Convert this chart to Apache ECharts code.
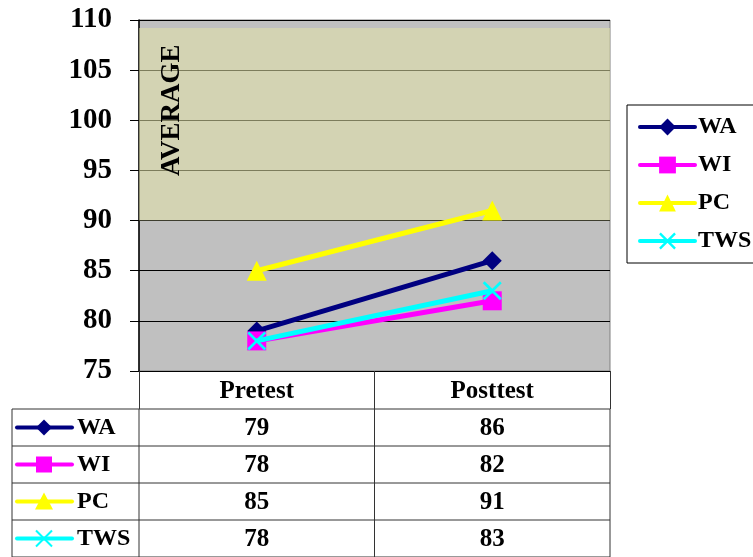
<!DOCTYPE html>
<html><head><meta charset="utf-8">
<script src="https://cdn.jsdelivr.net/npm/echarts@6/dist/echarts.min.js"></script>
<style>html,body{margin:0;padding:0;background:#fff}#c{width:753px;height:557px}</style>
</head><body><div id="c"></div>
<script>
// ---- data ----
const categories = ['Pretest', 'Posttest'];
const seriesNames = ['WA', 'WI', 'PC', 'TWS'];
const WA = [79, 86];
const WI = [78, 82];
const PC = [85, 91];
const TWS = [78, 83];
const yMin = 75, yMax = 110, yStep = 5;
const averageBand = [90, 109.2];
const averageText = 'AVERAGE';

// ---- styles ----
const FONT = '"Liberation Serif", "Times New Roman", serif';
const colors = ['#000080', '#FF00FF', '#FFFF00', '#00FFFF'];
const X_PATH = 'path://M0,1 L1,0 L5,4 L9,0 L10,1 L6,5 L10,9 L9,10 L5,6 L1,10 L0,9 L4,5 Z';
const symbols = ['diamond', 'rect', 'triangle', X_PATH];
const symbolSizes = [19, 19, 20, 19];
const values = [WA, WI, PC, TWS];

const chart = echarts.init(document.getElementById('c'), null, {renderer: 'canvas'});

const series = [{
  name: '_band', type: 'line', data: ['-', '-'], z: 1, silent: true,
  markArea: {
    silent: true,
    itemStyle: {color: 'rgba(226,226,168,0.55)'},
    data: [[{yAxis: averageBand[0]}, {yAxis: averageBand[1]}]]
  }
}];
seriesNames.forEach((n, i) => {
  series.push({
    name: n, type: 'line', data: values[i], z: 3 + i,
    symbol: symbols[i], symbolSize: symbolSizes[i],
    lineStyle: {color: colors[i], width: 5},
    itemStyle: {color: colors[i]},
    emphasis: {disabled: true}
  });
});

chart.setOption({
  animation: false,
  backgroundColor: '#fff',
  grid: {left: 139, right: 143, top: 20, bottom: 186, show: true,
         backgroundColor: '#C0C0C0', borderColor: '#808080', borderWidth: 1},
  xAxis: {
    type: 'category', data: categories, boundaryGap: true,
    axisLine: {lineStyle: {color: '#000', width: 1}},
    axisTick: {show: true, alignWithLabel: false, length: 38, lineStyle: {color: '#333'}},
    axisLabel: {margin: 8, fontSize: 25, fontWeight: 'bold', fontFamily: FONT, color: '#000'},
    splitLine: {show: false}
  },
  yAxis: {
    type: 'value', min: yMin, max: yMax, interval: yStep,
    axisLine: {show: true, lineStyle: {color: '#000', width: 1.5}},
    axisTick: {show: true, length: 9, lineStyle: {color: '#000'}},
    axisLabel: {margin: 27, fontSize: 29, fontWeight: 'bold', fontFamily: FONT, color: '#000'},
    splitLine: {show: true, lineStyle: {color: '#000', width: 1}}
  },
  legend: {
    orient: 'vertical', left: 627, top: 105,
    data: seriesNames,
    itemWidth: 55, itemHeight: 21, itemGap: 14,
    padding: [10, 8, 10, 11],
    borderColor: '#000', borderWidth: 1,
    selectedMode: false,
    lineStyle: {width: 4, cap: 'round'},
    textStyle: {fontSize: 24, fontWeight: 'bold', fontFamily: FONT, color: '#000', lineHeight: 24, padding: [0, 0, 0, -2]}
  },
  series: series
});

// ---- data table built from the arrays ----
const tableLeft = 12, tableRight = 610, rowH = 37;
const headerBottom = 409;
const xPx = categories.map((c) => chart.convertToPixel({xAxisIndex: 0}, c));
const axisLeft = 139;
const midX = (xPx[0] + xPx[1]) / 2;
const g = [];
const lineColor = '#333';
const nRows = seriesNames.length;
for (let r = 0; r <= nRows; r++) {
  const y = headerBottom + r * rowH;
  g.push({type: 'line', z: 50, shape: {x1: tableLeft, y1: y, x2: tableRight, y2: y}, style: {stroke: lineColor, lineWidth: 1}});
}
const bottomY = headerBottom + nRows * rowH;
[tableLeft, axisLeft, midX, tableRight].forEach((x) => {
  g.push({type: 'line', z: 50, shape: {x1: x, y1: headerBottom, x2: x, y2: bottomY}, style: {stroke: lineColor, lineWidth: 1}});
});
seriesNames.forEach((n, i) => {
  const cy = headerBottom + i * rowH + rowH / 2;
  g.push({type: 'line', z: 50, shape: {x1: 17, y1: cy, x2: 72, y2: cy}, style: {stroke: colors[i], lineWidth: 4, lineCap: 'round'}});
  g.push({type: 'text', z: 50, x: 77, y: cy, style: {text: n, font: 'bold 24px ' + FONT, fill: '#000', verticalAlign: 'middle'}});
  values[i].forEach((v, j) => {
    g.push({type: 'text', z: 50, x: xPx[j], y: cy + 1, style: {text: String(v), font: 'bold 25px ' + FONT, fill: '#000', align: 'center', verticalAlign: 'middle'}});
  });
});
// table key markers
const mk = (i, cx, cy) => {
  const s = 16;
  if (i === 0) return {type: 'polygon', z: 51, shape: {points: [[cx, cy - 8], [cx + 8, cy], [cx, cy + 8], [cx - 8, cy]]}, style: {fill: colors[i]}};
  if (i === 1) return {type: 'rect', z: 51, shape: {x: cx - 8, y: cy - 8, width: s, height: s}, style: {fill: colors[i]}};
  if (i === 2) return {type: 'polygon', z: 51, shape: {points: [[cx, cy - 9], [cx + 9, cy + 8], [cx - 9, cy + 8]]}, style: {fill: colors[i]}};
  return {type: 'group', z: 51, children: [
    {type: 'line', z: 51, shape: {x1: cx - 8, y1: cy - 8, x2: cx + 8, y2: cy + 8}, style: {stroke: colors[i], lineWidth: 2}},
    {type: 'line', z: 51, shape: {x1: cx + 8, y1: cy - 8, x2: cx - 8, y2: cy + 8}, style: {stroke: colors[i], lineWidth: 2}}
  ]};
};
seriesNames.forEach((n, i) => {
  const cy = headerBottom + i * rowH + rowH / 2;
  g.push(mk(i, 44, cy));
});
// AVERAGE label in the band
const bandMid = chart.convertToPixel({yAxisIndex: 0}, 101);
g.push({type: 'text', z: 100, x: 172, y: bandMid, rotation: Math.PI / 2,
  style: {text: averageText, font: 'bold 27px ' + FONT, fill: '#000', align: 'center', verticalAlign: 'middle'}});

chart.setOption({graphic: {elements: g}});
</script>
</body></html>
